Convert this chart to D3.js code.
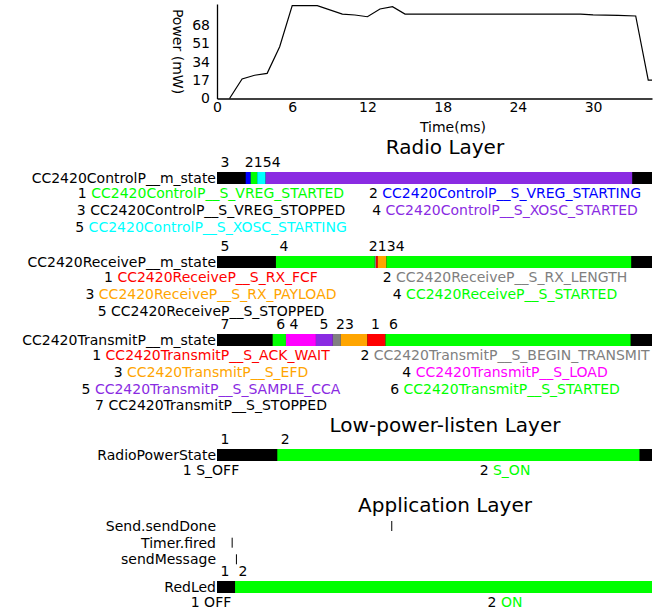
<!DOCTYPE html>
<html><head><meta charset="utf-8">
<script src="https://cdn.jsdelivr.net/npm/d3@7"></script>
<style>body{margin:0;background:#fff} text{font-family:"DejaVu Sans",sans-serif}</style>
</head><body><svg id="c" width="656" height="610"></svg>
<script>
// ---------------- data ----------------
const timeMax = 34.7;
const timeTicks = [0, 6, 12, 18, 24, 30];
const powerYTicks = [0, 17, 34, 51, 68];
const powerTime  = [1, 2, 3, 4, 5, 6, 8, 10, 11, 12, 13, 14, 15, 29, 30, 32, 33.4, 34.4, 34.7];
const powerValue = [0, 18.1, 21.5, 23.3, 48, 86, 86, 78.2, 77.3, 75.7, 82.9, 85, 78.2, 78.2, 77.4, 77, 76.4, 17.1, 17.1];

const controlNames  = ["CC2420ControlP__S_VREG_STARTED", "CC2420ControlP__S_VREG_STARTING", "CC2420ControlP__S_VREG_STOPPED", "CC2420ControlP__S_XOSC_STARTED", "CC2420ControlP__S_XOSC_STARTING"];
const controlColors = ["#00ff00", "#0000ff", "#000000", "#8a2be2", "#00ffff"];
const controlStates = [3, 2, 1, 5, 4];
const controlStarts = [0, 2.29, 2.69, 3.21, 3.88];
const controlEnd = 33.12;

const receiveNames  = ["CC2420ReceiveP__S_RX_FCF", "CC2420ReceiveP__S_RX_LENGTH", "CC2420ReceiveP__S_RX_PAYLOAD", "CC2420ReceiveP__S_STARTED", "CC2420ReceiveP__S_STOPPED"];
const receiveColors = ["#ff0000", "#808080", "#ffa500", "#00ff00", "#000000"];
const receiveStates = [5, 4, 2, 1, 3, 4];
const receiveStarts = [0, 4.70, 12.59, 12.69, 12.83, 13.52];
const receiveEnd = 33.04;

const transmitNames  = ["CC2420TransmitP__S_ACK_WAIT", "CC2420TransmitP__S_BEGIN_TRANSMIT", "CC2420TransmitP__S_EFD", "CC2420TransmitP__S_LOAD", "CC2420TransmitP__S_SAMPLE_CCA", "CC2420TransmitP__S_STARTED", "CC2420TransmitP__S_STOPPED"];
const transmitColors = ["#ff0000", "#808080", "#ffa500", "#ff00ff", "#8a2be2", "#00ff00", "#000000"];
const transmitStates = [7, 6, 4, 5, 2, 3, 1, 6];
const transmitStarts = [0, 4.44, 5.50, 7.89, 9.24, 9.88, 12.0, 13.44];
const transmitEnd = 32.99;

const lplNames  = ["S_OFF", "S_ON"];
const lplColors = ["#000000", "#00ff00"];
const lplStates = [1, 2];
const lplStarts = [0, 4.81];
const lplEnd = 33.7;

const ledNames  = ["OFF", "ON"];
const ledColors = ["#000000", "#00ff00"];
const ledStates = [1, 2];
const ledStarts = [0, 1.44];
const ledEnd = 34.7;

const eventNames = ["Send.sendDone", "Timer.fired", "sendMessage"];
const eventTimes = [13.94, 1.21, 1.55];

// ---------------- layout ----------------
const svg = d3.select("#c");
const x = d3.scaleLinear().domain([0, timeMax]).range([217, 652]);
const yP = d3.scaleLinear().domain([0, 87.5]).range([98.5, 4]);
const FS = 14;

// power chart
const gx = svg.append("g").attr("transform", "translate(0,98.5)")
  .call(d3.axisBottom(x).tickValues(timeTicks).tickSize(0).tickPadding(4));
const gy = svg.append("g").attr("transform", "translate(217,0)")
  .call(d3.axisLeft(yP).tickValues(powerYTicks).tickSize(0).tickPadding(7));
[gx, gy].forEach(g => {
  g.selectAll("text").attr("font-size", FS).attr("font-family", "DejaVu Sans").attr("fill", "#000");
  g.select(".domain").attr("stroke", "#000").attr("stroke-width", 1.3);
});
const pts = powerTime.map((t, i) => [t, powerValue[i]]);
svg.append("path").datum(pts)
  .attr("d", d3.line().x(d => x(d[0])).y(d => yP(d[1])))
  .attr("fill", "none").attr("stroke", "#000").attr("stroke-width", 1.2);
svg.append("text").attr("x", 453).attr("y", 127).attr("dy", "0.35em")
  .attr("text-anchor", "middle").attr("font-size", FS).text("Time(ms)");
svg.append("text").attr("transform", "translate(178,51.5) rotate(90)").attr("dy", "0.35em")
  .attr("text-anchor", "middle").attr("font-size", FS).text("Power (mW)");

function title(txt, yc) {
  svg.append("text").attr("x", 445).attr("y", yc).attr("dy", "0.35em")
    .attr("text-anchor", "middle").attr("font-size", 20).text(txt);
}

function placeLabels(xs, gap) {
  const cl = [];
  xs.forEach(v => {
    cl.push({ pos: v, items: [v] });
    while (cl.length > 1) {
      const b = cl[cl.length - 1], a = cl[cl.length - 2];
      if (a.pos + a.items.length * gap > b.pos) {
        const items = a.items.concat(b.items);
        const pos = d3.mean(items.map((v2, k) => v2 - k * gap));
        cl.splice(-2, 2, { pos, items });
      } else break;
    }
  });
  return cl.flatMap(c => c.items.map((_, k) => c.pos + k * gap));
}

const colCenter = [211, 505];
function stateRow(label, names, colors, states, starts, end, top) {
  const H = 12;
  const g = svg.append("g");
  g.append("rect").attr("x", x(0)).attr("y", top).attr("width", x(timeMax) - x(0)).attr("height", H).attr("fill", "#000");
  const segs = states.map((s, i) => ({ s, t0: starts[i], t1: i < states.length - 1 ? starts[i + 1] : end }));
  g.selectAll("rect.seg").data(segs).enter().append("rect").attr("class", "seg")
    .attr("x", d => x(d.t0)).attr("y", top).attr("width", d => x(d.t1) - x(d.t0)).attr("height", H)
    .attr("fill", d => colors[d.s - 1]);
  const lx = placeLabels(segs.map(d => x(d.t0) + 8), 9);
  g.selectAll("text.num").data(segs).enter().append("text").attr("class", "num")
    .attr("x", (d, i) => lx[i]).attr("y", top - 10).attr("dy", "0.35em")
    .attr("text-anchor", "middle").attr("font-size", FS).text(d => d.s);
  g.append("text").attr("x", 216).attr("y", top + H / 2).attr("dy", "0.35em")
    .attr("text-anchor", "end").attr("font-size", FS).text(label);
  names.forEach((n, i) => {
    const t = g.append("text").attr("x", colCenter[i % 2]).attr("y", top + H + 9 + Math.floor(i / 2) * 16.8)
      .attr("dy", "0.35em").attr("text-anchor", "middle").attr("font-size", FS);
    t.append("tspan").attr("fill", "#000").text((i + 1) + " ");
    t.append("tspan").attr("fill", colors[i]).text(n);
  });
}

title("Radio Layer", 147);
stateRow("CC2420ControlP__m_state", controlNames, controlColors, controlStates, controlStarts, controlEnd, 172);
stateRow("CC2420ReceiveP__m_state", receiveNames, receiveColors, receiveStates, receiveStarts, receiveEnd, 256);
stateRow("CC2420TransmitP__m_state", transmitNames, transmitColors, transmitStates, transmitStarts, transmitEnd, 334);
title("Low-power-listen Layer", 425);
stateRow("RadioPowerState", lplNames, lplColors, lplStates, lplStarts, lplEnd, 449);
title("Application Layer", 505);
const evY = [526, 542.7, 559.3];
eventNames.forEach((n, i) => {
  svg.append("text").attr("x", 216).attr("y", evY[i]).attr("dy", "0.35em")
    .attr("text-anchor", "end").attr("font-size", FS).text(n);
  svg.append("line").attr("x1", x(eventTimes[i])).attr("x2", x(eventTimes[i]))
    .attr("y1", evY[i] - 5).attr("y2", evY[i] + 5).attr("stroke", "#000").attr("stroke-width", 1);
});
stateRow("RedLed", ledNames, ledColors, ledStates, ledStarts, ledEnd, 581);
</script></body></html>
